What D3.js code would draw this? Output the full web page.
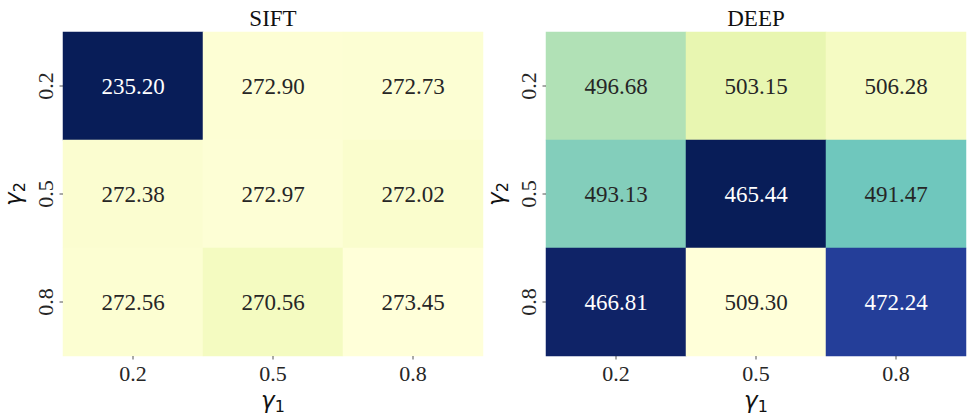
<!DOCTYPE html>
<html>
<head>
<meta charset="utf-8">
<script src="https://cdn.jsdelivr.net/npm/d3@7"></script>
<style>
  body { margin: 0; background: #fff; }
</style>
</head>
<body>
<svg id="chart" width="977" height="419"></svg>
<script>
var gamma1 = ["0.2", "0.5", "0.8"];
var gamma2 = ["0.2", "0.5", "0.8"];

// rows = gamma2, cols = gamma1
var siftValues = [
    [235.20, 272.90, 272.73],
    [272.38, 272.97, 272.02],
    [272.56, 270.56, 273.45]
];
var deepValues = [
    [496.68, 503.15, 506.28],
    [493.13, 465.44, 491.47],
    [466.81, 509.30, 472.24]
];

var panels = [
    { title: "SIFT", values: siftValues, left: 63 },
    { title: "DEEP", values: deepValues, left: 546 }
];

// matplotlib YlGnBu, reversed (low values dark)
var ylgnbu = ["#ffffd9", "#edf8b1", "#c7e9b4", "#7fcdbb", "#41b6c4",
              "#1d91c0", "#225ea8", "#253494", "#081d58"];

var serif = "'Liberation Serif', 'Times New Roman', Tinos, 'DejaVu Serif', serif";
var plotTop = 32, plotW = 420, plotH = 324;

var svg = d3.select("#chart");

function luminance(c) {
    var rgb = d3.rgb(c);
    var ch = [rgb.r, rgb.g, rgb.b].map(function (v) {
        v = v / 255;
        return v <= 0.03928 ? v / 12.92 : Math.pow((v + 0.055) / 1.055, 2.4);
    });
    return 0.2126 * ch[0] + 0.7152 * ch[1] + 0.0722 * ch[2];
}

function mathLabel(sel, sub) {
    sel.append("tspan")
        .attr("font-family", "'DejaVu Sans'")
        .attr("font-style", "italic")
        .text("γ");
    sel.append("tspan")
        .attr("font-family", "'DejaVu Sans'")
        .attr("font-size", 16)
        .attr("dy", 4)
        .text(sub);
}

panels.forEach(function (p) {
    var flat = [];
    p.values.forEach(function (row, i) {
        row.forEach(function (v, j) {
            flat.push({ row: gamma2[i], col: gamma1[j], value: v });
        });
    });

    var vmin = d3.min(flat, function (d) { return d.value; });
    var vmax = d3.max(flat, function (d) { return d.value; });

    var color = d3.scaleLinear()
        .domain(d3.range(9).map(function (k) { return vmax - k * (vmax - vmin) / 8; }))
        .range(ylgnbu)
        .interpolate(d3.interpolateRgb);

    var x = d3.scaleBand().domain(gamma1).range([0, plotW]);
    var y = d3.scaleBand().domain(gamma2).range([0, plotH]);

    var g = svg.append("g")
        .attr("transform", "translate(" + p.left + "," + plotTop + ")");

    g.selectAll(".cell")
        .data(flat)
        .enter().append("rect")
        .attr("class", "cell")
        .attr("x", function (d) { return x(d.col); })
        .attr("y", function (d) { return y(d.row); })
        .attr("width", x.bandwidth())
        .attr("height", y.bandwidth())
        .attr("fill", function (d) { return color(d.value); })
        .attr("stroke", function (d) { return color(d.value); })
        .attr("stroke-width", 0.5);

    g.selectAll(".annot")
        .data(flat)
        .enter().append("text")
        .attr("class", "annot")
        .attr("x", function (d) { return x(d.col) + x.bandwidth() / 2; })
        .attr("y", function (d) { return y(d.row) + y.bandwidth() / 2 + 8; })
        .attr("text-anchor", "middle")
        .attr("font-family", serif)
        .attr("font-size", 23)
        .attr("fill", function (d) {
            return luminance(color(d.value)) > 0.408 ? "#262626" : "#ffffff";
        })
        .text(function (d) { return d.value.toFixed(2); });

    /* x axis */
    var xAxis = g.append("g")
        .attr("transform", "translate(0," + plotH + ")")
        .call(d3.axisBottom(x).tickSize(3.5).tickPadding(6));
    xAxis.attr("font-family", serif);
    xAxis.select(".domain").remove();
    xAxis.selectAll("line").attr("stroke", "#262626").attr("stroke-width", 0.8);
    xAxis.selectAll(".tick text")
        .attr("font-size", 22)
        .attr("fill", "#262626");

    /* y axis, labels rotated */
    var yAxis = g.append("g")
        .call(d3.axisLeft(y).tickSize(3.5).tickPadding(6));
    yAxis.attr("font-family", serif);
    yAxis.select(".domain").remove();
    yAxis.selectAll("line").attr("stroke", "#262626").attr("stroke-width", 0.8);
    yAxis.selectAll(".tick text")
        .attr("font-size", 22)
        .attr("fill", "#262626")
        .attr("text-anchor", "middle")
        .attr("dy", null)
        .attr("x", 0)
        .attr("y", -10)
        .attr("transform", "rotate(-90)");

    /* title */
    g.append("text")
        .attr("x", plotW / 2)
        .attr("y", -6)
        .attr("text-anchor", "middle")
        .attr("font-family", serif)
        .attr("font-size", 23)
        .attr("fill", "#111")
        .text(p.title);

    /* axis labels */
    g.append("text")
        .attr("x", plotW / 2)
        .attr("y", plotH + 52)
        .attr("text-anchor", "middle")
        .attr("font-size", 23)
        .attr("fill", "#111")
        .call(mathLabel, "1");

    g.append("text")
        .attr("transform", "translate(-42," + plotH / 2 + ") rotate(-90)")
        .attr("text-anchor", "middle")
        .attr("font-size", 23)
        .attr("fill", "#111")
        .call(mathLabel, "2");
});
</script>
</body>
</html>
